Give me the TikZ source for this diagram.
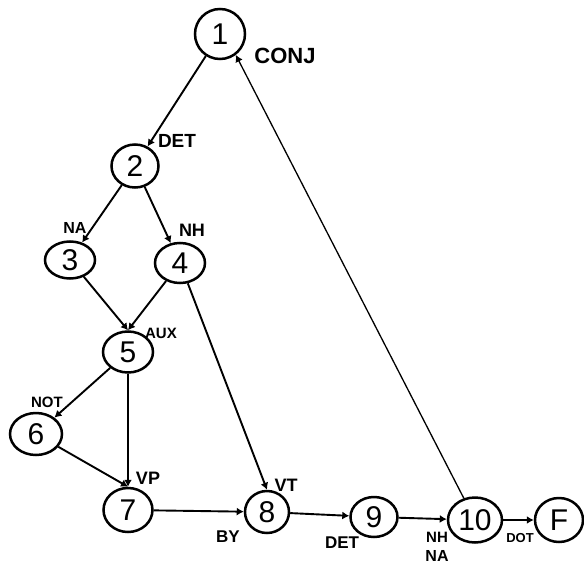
\documentclass[tikz,border=0pt]{standalone}
\usepackage{fontspec}
\setmainfont{Liberation Sans}
\usetikzlibrary{shapes.geometric,arrows.meta}

\tikzset{
  state/.style={ellipse, draw, line width=2.5pt, inner sep=0pt,
    font=\fontsize{30}{30}\selectfont},
  arc/.style={line width=1.9pt, -{Latex[length=7pt,width=8pt]}},
  thinarc/.style={line width=1.3pt, -{Latex[length=7pt,width=8pt]}},
  lab/.style={inner sep=0pt, font=\bfseries\fontsize{#1}{#1}\selectfont},
  lab/.default=16
}

\begin{document}
\begin{tikzpicture}[x=1pt,y=-1pt]
  \useasboundingbox[fill=white] (0,0) rectangle (584,565);

  % states of the network
  \node[state, minimum width=50pt, minimum height=50pt] (n1) at (220,34) {1};
  \node[state, minimum width=47pt, minimum height=43pt] (n2) at (135,166) {2};
  \node[state, minimum width=50pt, minimum height=37pt] (n3) at (70,260) {3};
  \node[state, minimum width=50pt, minimum height=40pt] (n4) at (180,263) {4};
  \node[state, minimum width=50pt, minimum height=41pt] (n5) at (128,352) {5};
  \node[state, minimum width=52pt, minimum height=42pt] (n6) at (36,434) {6};
  \node[state, minimum width=49pt, minimum height=44pt] (n7) at (128,510) {7};
  \node[state, minimum width=44pt, minimum height=42pt] (n8) at (267,512) {8};
  \node[state, minimum width=47pt, minimum height=40pt] (n9) at (374,517) {9};
  \node[state, minimum width=54pt, minimum height=45pt] (n10) at (475,520) {10};
  \node[state, minimum width=48pt, minimum height=44pt] (nF) at (559,520) {F};

  % transitions
  \draw[arc] (n1) -- (n2);
  \draw[thinarc] (n10) -- (n1.-53);
  \draw[arc] (n2) -- (n3);
  \draw[arc] (n2) -- (n4);
  \draw[arc] (n3) -- (n5.north);
  \draw[arc] (n4) -- (n5.north);
  \draw[arc] (n4) -- (n8.north);
  \draw[arc] (n5) -- (n6);
  \draw[arc] (n5.south) -- (n7.north);
  \draw[arc] (n6) -- (n7.north);
  \draw[arc] (n7) -- (n8);
  \draw[arc] (n8) -- (n9);
  \draw[arc] (n9) -- (n10);
  \draw[arc] (n10) -- (nF);

  % transition labels
  \node[lab=22] (lconj) at (285,56) {CONJ};
  \node[lab=19] (ldet1) at (177,141) {DET};
  \node[lab=16] (lna1) at (75,228) {NA};
  \node[lab=18] (lnh1) at (192,230) {NH};
  \node[lab=15] (laux) at (161,333) {AUX};
  \node[lab=15] (lnot) at (47,402) {NOT};
  \node[lab=18] (lvp) at (148,478) {VP};
  \node[lab=18] (lvt) at (286,485) {VT};
  \node[lab=17] (lby) at (228,537) {BY};
  \node[lab=17] (ldet2) at (342,543) {DET};
  \node[lab=15] (lnh2) at (437,537) {NH};
  \node[lab=16] (lna2) at (437,556) {NA};
  \node[lab=13] (ldot) at (520,538) {DOT};
\end{tikzpicture}
\end{document}
